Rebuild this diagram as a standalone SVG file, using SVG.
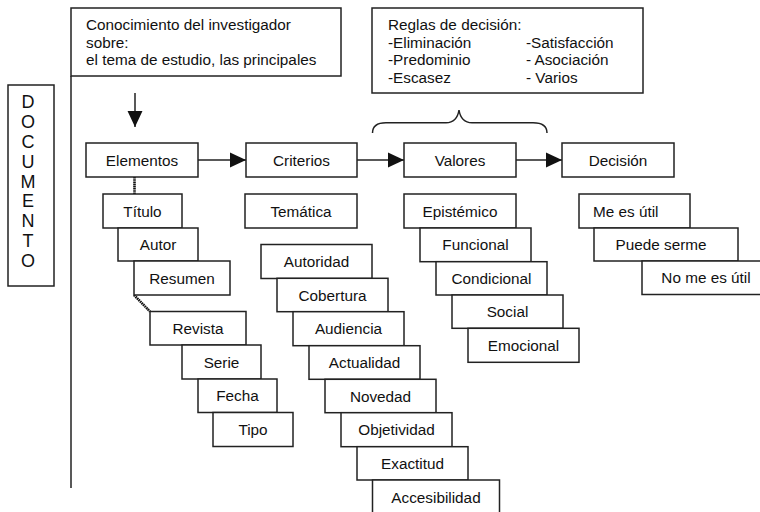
<svg xmlns="http://www.w3.org/2000/svg" width="760" height="512" viewBox="0 0 760 512">
<style>
  .box { fill: #fff; stroke: #222; stroke-width: 1.5; }
  .t { font-family: "Liberation Sans", Arial, sans-serif; font-size: 15.3px; fill: #111; }
  .c { text-anchor: middle; }
  .doc { font-family: "Liberation Sans", Arial, sans-serif; font-size: 18px; fill: #111; text-anchor: middle; }
  .ln { stroke: #222; stroke-width: 1.5; fill: none; }
  .hatch { stroke: #111; stroke-width: 2.6; stroke-dasharray: 1.6 0.6; fill: none; }
</style>
<defs>
  <marker id="ah" markerUnits="userSpaceOnUse" markerWidth="16" markerHeight="16" viewBox="0 0 15 14" refX="15" refY="7" orient="auto">
    <path d="M0,0 L15,7 L0,14 Z" fill="#111"/>
  </marker>
</defs>
<rect width="760" height="512" fill="#fff"/>

<g id="conocimiento">
  <rect class="box" x="71" y="8" width="270" height="68"/>
  <text class="t" x="86" y="30">Conocimiento del investigador</text>
  <text class="t" x="86" y="47.5">sobre:</text>
  <text class="t" x="86" y="65">el tema de estudio, las principales</text>
</g>

<g id="documento">
  <rect class="box" x="8" y="85" width="46" height="201"/>
  <text class="doc" x="28" y="108.3">D</text>
  <text class="doc" x="28" y="128.1">O</text>
  <text class="doc" x="28" y="147.9">C</text>
  <text class="doc" x="28" y="167.7">U</text>
  <text class="doc" x="28" y="187.5">M</text>
  <text class="doc" x="28" y="207.3">E</text>
  <text class="doc" x="28" y="227.1">N</text>
  <text class="doc" x="28" y="246.9">T</text>
  <text class="doc" x="28" y="266.7">O</text>
</g>

<g id="reglas">
  <rect class="box" x="372" y="8" width="271" height="85"/>
  <text class="t" x="388" y="30">Reglas de decisión:</text>
  <text class="t" x="388" y="47.5">-Eliminación</text>
  <text class="t" x="388" y="65">-Predominio</text>
  <text class="t" x="388" y="82.5">-Escasez</text>
  <text class="t" x="526" y="47.5">-Satisfacción</text>
  <text class="t" x="526" y="65">- Asociación</text>
  <text class="t" x="526" y="82.5">- Varios</text>
</g>

<g id="connectors">
  <line class="ln" x1="71" y1="76" x2="71" y2="488"/>
  <line class="ln" x1="135" y1="93" x2="135" y2="127" marker-end="url(#ah)"/>
  <line class="ln" x1="198" y1="160" x2="246" y2="160" marker-end="url(#ah)"/>
  <line class="ln" x1="357" y1="160" x2="404" y2="160" marker-end="url(#ah)"/>
  <line class="ln" x1="516" y1="160" x2="562" y2="160" marker-end="url(#ah)"/>
  <path class="ln" d="M372.5,133 Q372.5,122.7 386,122.7 L446,122.7 Q457,122.7 459,110 Q461,122.7 472,122.7 L533,122.7 Q547,122.7 547,133"/>
  <line class="hatch" x1="134.5" y1="177" x2="134.5" y2="194"/>
  <line class="hatch" x1="134" y1="295" x2="150" y2="311.5"/>
</g>

<g id="elementos">
  <rect class="box" x="86" y="143" width="112" height="34"/>
  <text class="t c" x="142" y="165.5">Elementos</text>
</g>
<g id="criterios">
  <rect class="box" x="246" y="143" width="111" height="34"/>
  <text class="t c" x="301.5" y="165.5">Criterios</text>
</g>
<g id="valores">
  <rect class="box" x="404" y="143" width="112" height="34"/>
  <text class="t c" x="460" y="165.5">Valores</text>
</g>
<g id="decision">
  <rect class="box" x="562" y="143" width="112" height="34"/>
  <text class="t c" x="618" y="165.5">Decisión</text>
</g>

<g id="titulo"><rect class="box" x="103" y="194" width="79" height="34"/><text class="t c" x="142.5" y="216.5">Título</text></g>
<g id="autor"><rect class="box" x="118" y="228" width="80" height="33"/><text class="t c" x="158" y="250">Autor</text></g>
<g id="resumen"><rect class="box" x="134" y="261" width="96" height="34"/><text class="t c" x="182" y="283.5">Resumen</text></g>
<g id="revista"><rect class="box" x="150" y="311.5" width="96" height="33.5"/><text class="t c" x="198" y="333.7">Revista</text></g>
<g id="serie"><rect class="box" x="182" y="345" width="79" height="34"/><text class="t c" x="221.5" y="367.5">Serie</text></g>
<g id="fecha"><rect class="box" x="198" y="379" width="79" height="33.5"/><text class="t c" x="237.5" y="401.2">Fecha</text></g>
<g id="tipo"><rect class="box" x="213" y="412.5" width="80" height="34"/><text class="t c" x="253" y="435">Tipo</text></g>

<g id="tematica"><rect class="box" x="245" y="194" width="112" height="34"/><text class="t c" x="301" y="216.5">Temática</text></g>
<g id="autoridad"><rect class="box" x="261" y="244.5" width="111" height="34"/><text class="t c" x="316.5" y="267">Autoridad</text></g>
<g id="cobertura"><rect class="box" x="277" y="278.3" width="111" height="33.4"/><text class="t c" x="332.5" y="300.5">Cobertura</text></g>
<g id="audiencia"><rect class="box" x="293" y="311.7" width="111" height="34"/><text class="t c" x="348.5" y="334.2">Audiencia</text></g>
<g id="actualidad"><rect class="box" x="309" y="345.7" width="111" height="33.6"/><text class="t c" x="364.5" y="368">Actualidad</text></g>
<g id="novedad"><rect class="box" x="325" y="379.3" width="111" height="33.4"/><text class="t c" x="380.5" y="401.5">Novedad</text></g>
<g id="objetividad"><rect class="box" x="341" y="412.7" width="111" height="34"/><text class="t c" x="396.5" y="435.2">Objetividad</text></g>
<g id="exactitud"><rect class="box" x="357" y="446.7" width="111" height="33.3"/><text class="t c" x="412.5" y="468.8">Exactitud</text></g>
<g id="accesibilidad"><rect class="box" x="372.5" y="480" width="127" height="34"/><text class="t c" x="436" y="502.5">Accesibilidad</text></g>

<g id="epistemico"><rect class="box" x="404" y="194" width="112" height="34"/><text class="t c" x="460" y="216.5">Epistémico</text></g>
<g id="funcional"><rect class="box" x="420" y="228" width="111" height="33.7"/><text class="t c" x="475.5" y="250.3">Funcional</text></g>
<g id="condicional"><rect class="box" x="436" y="261.7" width="111" height="33.3"/><text class="t c" x="491.5" y="283.8">Condicional</text></g>
<g id="social"><rect class="box" x="452" y="295" width="111" height="33.3"/><text class="t c" x="507.5" y="317.1">Social</text></g>
<g id="emocional"><rect class="box" x="468" y="328.3" width="111" height="34"/><text class="t c" x="523.5" y="350.8">Emocional</text></g>

<g id="me-es-util"><rect class="box" x="579" y="194" width="111" height="34"/><text class="t" x="593" y="216.5">Me es útil</text></g>
<g id="puede-serme"><rect class="box" x="594" y="228" width="144" height="33"/><text class="t c" x="661" y="250">Puede serme</text></g>
<g id="no-me-es-util"><rect class="box" x="642" y="261" width="128" height="33.5"/><text class="t c" x="706" y="283.2">No me es útil</text></g>
</svg>
